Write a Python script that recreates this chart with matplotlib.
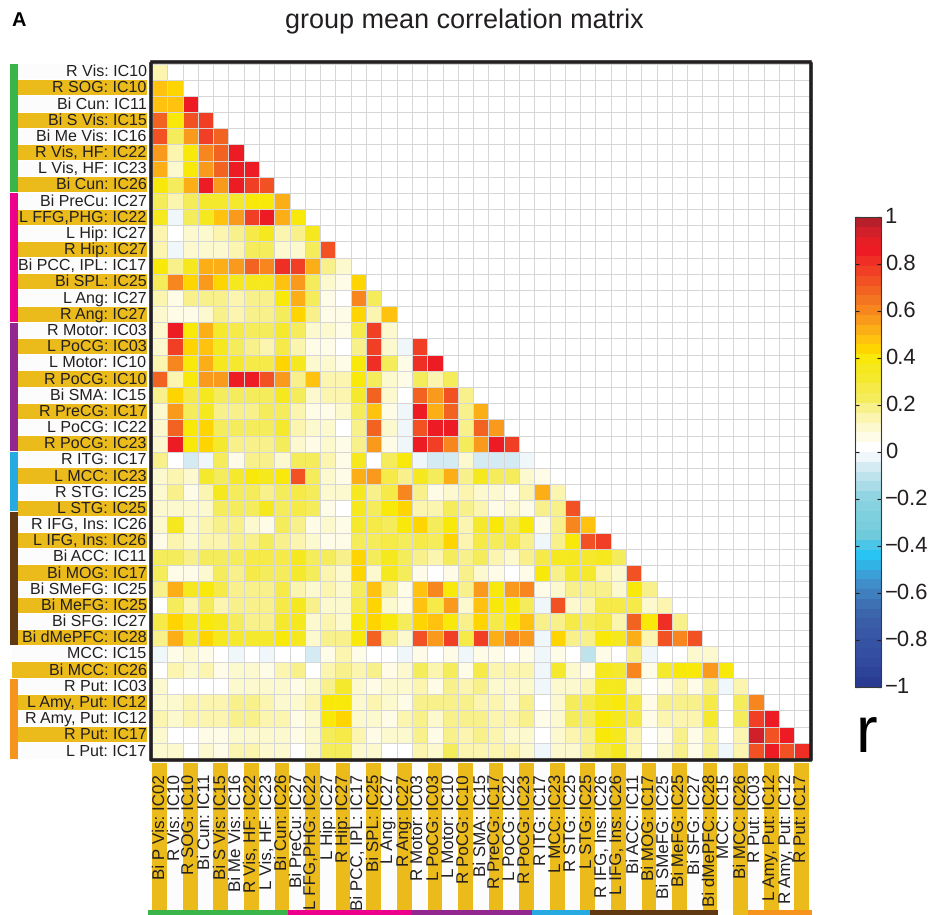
import numpy as np
import matplotlib
matplotlib.use("Agg")
import matplotlib.pyplot as plt
from matplotlib.colors import ListedColormap
from matplotlib.transforms import ScaledTranslation

FIG_W, FIG_H = 931, 915

# ==============================
# DATA
# ==============================
row_labels = [
    "R Vis: IC10", "R SOG: IC10", "Bi Cun: IC11", "Bi S Vis: IC15", "Bi Me Vis: IC16",
    "R Vis, HF: IC22", "L Vis, HF: IC23", "Bi Cun: IC26", "Bi PreCu: IC27",
    "L FFG,PHG: IC22", "L Hip: IC27", "R Hip: IC27", "Bi PCC, IPL: IC17", "Bi SPL: IC25",
    "L Ang: IC27", "R Ang: IC27", "R Motor: IC03", "L PoCG: IC03", "L Motor: IC10",
    "R PoCG: IC10", "Bi SMA: IC15", "R PreCG: IC17", "L PoCG: IC22", "R PoCG: IC23",
    "R ITG: IC17", "L MCC: IC23", "R STG: IC25", "L STG: IC25", "R IFG, Ins: IC26",
    "L IFG, Ins: IC26", "Bi ACC: IC11", "Bi MOG: IC17", "Bi SMeFG: IC25", "Bi MeFG: IC25",
    "Bi SFG: IC27", "Bi dMePFC: IC28", "MCC: IC15", "Bi MCC: IC26", "R Put: IC03",
    "L Amy, Put: IC12", "R Amy, Put: IC12", "R Put: IC17", "L Put: IC17",
]
col_labels = ["Bi P Vis: IC02"] + row_labels[:-1]

# correlation x 100, lower triangle, one list per row
r_rows = [
    [15],
    [48, 44],
    [48, 48, 85],
    [69, 39, 73, 77],
    [73, 23, 56, 77, 69],
    [56, 15, 39, 60, 69, 85],
    [52, 9, 39, 56, 69, 85, 85],
    [39, 23, 52, 85, 56, 85, 77, 73],
    [23, 15, 23, 31, 31, 31, 39, 39, 52],
    [35, -3, 23, 35, 48, 56, 77, 85, 52, 39],
    [15, 0, 12, 10, 15, 19, 27, 35, 15, 19, 35],
    [15, -3, 12, 12, 10, 15, 23, 23, 9, 10, 23, 73],
    [39, 19, 35, 52, 52, 56, 69, 60, 81, 77, 52, 19, 10],
    [23, 60, 44, 56, 44, 35, 35, 35, 48, 56, 23, 10, 7, 44],
    [15, 6, 19, 19, 19, 15, 19, 19, 39, 52, 23, 6, 0, 60, 23],
    [12, 6, 6, 10, 19, 15, 19, 19, 23, 44, 19, 6, 6, 44, 15, 48],
    [12, 85, 39, 52, 31, 27, 23, 23, 31, 23, 10, 12, 6, 27, 77, 12, 0],
    [12, 77, 44, 48, 35, 23, 19, 15, 27, 15, 6, 6, 0, 19, 77, 12, -3, 77],
    [15, 60, 39, 52, 35, 31, 27, 27, 44, 35, 12, 12, 6, 39, 81, 23, 6, 81, 85],
    [69, 15, 39, 56, 56, 85, 85, 73, 56, 19, 48, 15, 15, 39, 23, 12, 6, 23, 15, 23],
    [19, 44, 27, 35, 23, 23, 23, 23, 35, 23, 12, 15, 15, 31, 69, 12, 0, 69, 56, 73, 19],
    [12, 56, 23, 35, 19, 19, 19, 23, 23, 15, 6, 6, 9, 23, 48, 6, -3, 85, 52, 69, 19, 52],
    [12, 69, 39, 44, 23, 23, 23, 23, 31, 15, 12, 12, 0, 19, 69, 12, -3, 73, 85, 85, 19, 69, 56],
    [12, 85, 39, 44, 31, 19, 19, 19, 23, 12, 6, 10, 6, 19, 56, 6, -3, 85, 77, 60, 23, 56, 85, 77],
    [19, 0, -6, -3, 23, 6, 19, 19, 10, 23, 23, 15, 6, 35, 0, 23, 39, -3, -6, -6, 12, -6, -6, -6, -3],
    [10, 15, 12, 31, 23, 31, 39, 35, 39, 73, 23, 12, 6, 52, 56, 27, 19, 35, 23, 52, 19, 35, 23, 23, 12, 6],
    [12, 19, 6, 15, 35, 23, 23, 19, 23, 27, 23, 12, 10, 35, 19, 27, 60, 19, 6, 12, 15, 12, 10, 6, 15, 52, 15],
    [10, 10, 12, 12, 23, 23, 23, 35, 23, 27, 23, 6, 0, 35, 23, 39, 44, 15, 15, 23, 19, 15, 6, 10, 6, 19, 19, 73],
    [12, 35, 12, 15, 19, 19, 12, 6, 23, 19, 6, 12, 6, 31, 27, 23, 39, 44, 23, 39, 15, 31, 39, 23, 39, 6, 19, 60, 48],
    [6, 15, 12, 15, 15, 19, 19, 23, 19, 15, 12, 6, 6, 23, 23, 27, 23, 27, 23, 44, 15, 27, 23, 27, 19, -3, 19, 39, 73, 77],
    [23, 23, 19, 23, 23, 23, 27, 27, 27, 35, 23, 23, 19, 44, 23, 35, 23, 19, 15, 23, 19, 23, 15, 10, 19, 27, 35, 35, 31, 35, 23],
    [23, 6, 6, 10, 23, 19, 27, 23, 23, 31, 23, 15, 10, 44, 12, 35, 23, 6, 0, 6, 19, 12, 6, 0, 6, 39, 19, 31, 31, 15, 10, 73],
    [19, 52, 35, 39, 27, 19, 19, 19, 27, 15, 12, 15, 10, 23, 48, 19, 6, 48, 62, 39, 19, 56, 39, 56, 62, 6, 12, 19, 19, 19, 10, 39, 19],
    [0, 23, 15, 23, 15, 19, 19, 19, 27, 35, 19, 10, 10, 27, 44, 12, 6, 48, 27, 56, 12, 48, 39, 39, 23, -3, 73, 10, 15, 27, 27, 27, 10, 15],
    [27, 44, 35, 39, 35, 23, 19, 19, 31, 35, 12, 15, 10, 39, 44, 39, 23, 44, 48, 39, 19, 44, 27, 39, 48, 19, 19, 27, 23, 27, 15, 69, 39, 81, 19],
    [19, 52, 31, 44, 35, 31, 31, 31, 39, 35, 12, 19, 19, 39, 69, 19, 10, 73, 56, 77, 27, 77, 52, 62, 56, -3, 44, 19, 19, 39, 35, 52, 15, 73, 62, 73],
    [-3, 6, 10, 6, 0, -3, 0, -3, 0, 0, -6, 6, 15, 6, 0, 0, -3, 6, 0, 6, -3, 6, 6, 0, 6, -3, 6, 0, -11, 6, 0, 19, -3, 0, 0, 12, 12],
    [0, 15, 10, 15, 6, 10, 10, 6, 15, 19, 0, 15, 19, 15, 19, 6, 10, 23, 15, 23, 6, 27, 15, 15, 15, -3, 31, 12, 6, 35, 31, 60, 6, 31, 39, 39, 56, 39],
    [12, 0, 0, 0, 0, 10, 10, 10, 10, 6, 10, 19, 31, 12, 6, 10, 10, 15, 6, 19, 15, 19, 12, 12, 10, -3, 10, 10, 15, 35, 35, 10, 0, 6, 15, 6, 19, -3, 15],
    [12, 12, 15, 15, 15, 19, 19, 15, 12, 9, 15, 39, 39, 12, 15, 12, 6, 19, 19, 19, 19, 15, 15, 12, 19, 0, 12, 23, 27, 35, 39, 27, 6, 19, 19, 19, 27, 0, 23, 62],
    [15, 10, 15, 15, 15, 19, 19, 15, 15, 6, 10, 39, 44, 12, 10, 6, 15, 19, 12, 19, 19, 19, 15, 15, 19, 6, 10, 23, 23, 39, 35, 27, 6, 15, 15, 15, 31, 0, 23, 77, 85],
    [12, 0, 0, 6, 6, 10, 12, 10, 10, 6, 12, 23, 27, 15, 6, 10, 12, 19, 6, 19, 15, 19, 15, 12, 10, 0, 10, 15, 19, 39, 35, 15, 0, 6, 19, 6, 19, 0, 15, 94, 73, 85],
    [10, 9, 0, 10, 6, 15, 15, 12, 10, 0, 12, 23, 23, 10, 10, 0, 0, 15, 10, 23, 15, 15, 15, 15, 10, -3, 12, 12, 19, 27, 35, 15, 0, 10, 19, 6, 19, -3, 15, 73, 85, 73, 81],
]

cbar_ticks = [1, 0.8, 0.6, 0.4, 0.2, 0, -0.2, -0.4, -0.6, -0.8, -1]

# colour bands of the bar, from r=-1 up to r=1
band_colors = [
    "#2A3B92", "#2D4299", "#31499E", "#344EA1", "#3653A3", "#3858A5", "#395DA7", "#3B66AC",
    "#3E71B4", "#407FBF", "#3F8ECA", "#3BA0D8", "#32B3E6", "#2AC4F4", "#4CC6E8", "#6FCADC",
    "#79CDDD", "#7FD0DF", "#86D2E0", "#92D5E2", "#A9DCE6", "#BFE3EC", "#D5EBF3", "#EFF7FB",
    "#FFFFFF", "#FEFCE6", "#FCF9CF", "#FBF5B0", "#F8F08A", "#F5EC5C", "#F5EA48", "#F5E92E",
    "#F5E81E", "#F8E90A", "#FED500", "#FFC20E", "#FCAE16", "#FA9A1C", "#F7861F", "#F47521",
    "#F26322", "#F15123", "#F03F24", "#EF2F25", "#ED1C24", "#E61E26", "#D2202A", "#B71F2A",
]

# network stripes: colour, first row/col edge, last row/col edge
row_groups = [("#39B54A", 0, 8), ("#EC008C", 8, 16), ("#92278F", 16, 24),
              ("#27AAE1", 24, 27.7), ("#603913", 27.7, 36), ("#F7941D", 38, 43)]
col_groups = [("#39B54A", -0.25, 8.9), ("#EC008C", 8.9, 16.94), ("#92278F", 16.94, 24.85),
              ("#27AAE1", 24.85, 28.65), ("#603913", 28.65, 37.02), ("#F7941D", 38.98, 43.2)]

GOLD = "#EBBB1C"
PALE = "#FCFCFC"
TEXT = "#231F20"

plt.rcParams["font.family"] = ["Liberation Sans", "DejaVu Sans"]
plt.rcParams["text.hinting"] = "no_hinting"
plt.rcParams["text.hinting_factor"] = 1


def px_axes(fig, left, top, right, bottom, **kw):
    # axes placed by pixel edges of the reference picture
    return fig.add_axes([left / FIG_W, 1 - bottom / FIG_H,
                         (right - left) / FIG_W, (bottom - top) / FIG_H], **kw)


def main():
    fig = plt.figure(figsize=(FIG_W / 100, FIG_H / 100), dpi=100)
    n = len(row_labels)

    # ------------------------------
    # Matrix
    # ------------------------------
    matrix = np.zeros((n, n))
    for i, vals in enumerate(r_rows):
        matrix[i, :len(vals)] = np.array(vals) / 100

    cmap = ListedColormap(band_colors)
    ax = px_axes(fig, 152, 63.5, 809.5, 759)
    mesh = ax.pcolormesh(np.arange(n + 1), np.arange(n + 1), matrix, cmap=cmap, vmin=-1, vmax=1,
                         edgecolors="#D6D6D6", linewidth=0.5)
    ax.set_xlim(0, n)
    ax.set_ylim(n, 0)
    ax.set_xticks([])
    ax.set_yticks([])
    for side in ax.spines.values():
        side.set_linewidth(2.6)
        side.set_color("#231F20")
        side.set_position(("outward", 1.0))

    # ------------------------------
    # Row labels
    # ------------------------------
    ax_rows = px_axes(fig, 10, 63.5, 148, 759)
    ax_rows.set_xlim(10, 148)
    ax_rows.set_ylim(n, 0)
    ax_rows.axis("off")
    ys = np.arange(n) + 0.5
    colors = [GOLD if i % 2 else PALE for i in range(n)]
    lefts = [12 if i in (36, 37) else 18 for i in range(n)]
    ax_rows.barh(ys, [147 - x for x in lefts], left=lefts, height=0.94, color=colors)
    for y, label in zip(ys, row_labels):
        ax_rows.text(146.5, y + 0.02, label, ha="right", va="center", fontsize=11.8, color=TEXT)
    for color, start, end in row_groups:
        ax_rows.barh((start + end) / 2, 8, left=10, height=end - start - 0.06, color=color)

    # ------------------------------
    # Column labels
    # ------------------------------
    ax_cols = px_axes(fig, 148, 763, 812, 915)
    ax_cols.set_xlim((148 - 152) / 15.29, (812 - 152) / 15.29)
    ax_cols.set_ylim(152, 0)
    ax_cols.axis("off")
    xs = np.arange(n) + 0.5
    colors = [PALE if i % 2 else GOLD for i in range(n)]
    heights = [152 if i == 38 else 147 for i in range(n)]
    ax_cols.bar(xs, heights, width=0.96, color=colors)
    for x, label in zip(xs, col_labels):
        ax_cols.text(x + 0.02, 11, label, rotation=90, ha="center", va="top", fontsize=12.2, color=TEXT)
    for color, start, end in col_groups:
        ax_cols.bar((start + end) / 2, 5, bottom=147, width=end - start, color=color)

    # ------------------------------
    # Colorbar
    # ------------------------------
    cax = px_axes(fig, 854.5, 217, 880.5, 687)
    cb = fig.colorbar(mesh, cax=cax)
    cb.set_ticks(cbar_ticks)
    cb.set_ticklabels(["1", "0.8", "0.6", "0.4", "0.2", "0", "\u22120.2", "\u22120.4", "\u22120.6", "\u22120.8", "\u22121"])
    cb.outline.set_edgecolor("#3A3A3A")
    cb.outline.set_linewidth(0.8)
    cax.tick_params(axis="y", which="both", left=True, right=True, direction="in",
                    length=3, width=0.8, color="#231F20", pad=3, labelsize=15.5, labelcolor=TEXT)
    nudge = ScaledTranslation(0, 2 / 100, fig.dpi_scale_trans)
    for lbl in cax.get_yticklabels():
        lbl.set_transform(lbl.get_transform() + nudge)

    # ------------------------------
    # Titles
    # ------------------------------
    fig.text(464 / FIG_W, 1 - 21 / FIG_H, "group mean correlation matrix", ha="center", va="center",
             fontsize=19.15, color=TEXT)
    fig.text(11 / FIG_W, 1 - 25.5 / FIG_H, "A", ha="left", va="baseline", fontsize=14.5,
             fontweight="bold", color="black")
    fig.text(867 / FIG_W, 1 - 752 / FIG_H, "r", ha="center", va="baseline", fontsize=47, color="black")

    fig.savefig("out.png", dpi=100)
    plt.close(fig)


if __name__ == "__main__":
    main()
